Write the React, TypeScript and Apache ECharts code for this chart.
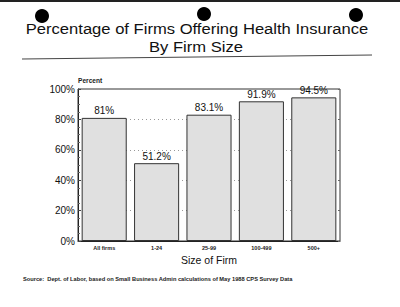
import React, { useEffect, useRef } from "react";
import * as echarts from "echarts";

// Firm size groups and the share of firms offering health insurance (%)
const categories = ["All firms", "1-24", "25-99", "100-499", "500+"];
const shares = [81, 51.2, 83.1, 91.9, 94.5];
const shareLabels = ["81%", "51.2%", "83.1%", "91.9%", "94.5%"];
const yTicks = [0, 20, 40, 60, 80, 100];

const titleLine1 = "Percentage of Firms Offering Health Insurance";
const titleLine2 = "By Firm Size";
const sourceNote =
  "Source:  Dept. of Labor, based on Small Business Admin calculations of May 1988 CPS Survey Data";

const FONT = "'Liberation Sans', Arial, Helvetica, sans-serif";

export default function App() {
  const ref = useRef<HTMLDivElement>(null);

  useEffect(() => {
    if (!ref.current) return;
    const chart = echarts.init(ref.current, null, { renderer: "svg" });

    const titleStyle = {
      fontFamily: FONT,
      fontSize: 15.5,
      fill: "#111",
      textAlign: "center",
      textVerticalAlign: "middle",
    };

    const option = {
      animation: false,
      backgroundColor: "#ffffff",
      grid: {
        left: 78,
        right: 60,
        top: 89,
        bottom: 66,
        show: true,
        borderColor: "#333",
        borderWidth: 1,
        backgroundColor: "transparent",
      },
      xAxis: {
        type: "category",
        data: categories,
        name: "Size of Firm",
        nameLocation: "middle",
        nameGap: 13,
        nameMoveOverlap: false,
        nameTextStyle: { fontFamily: FONT, fontSize: 10.5, color: "#111" },
        axisLine: { show: true, lineStyle: { color: "#222", width: 1 } },
        axisTick: { show: false },
        axisLabel: {
          fontFamily: FONT,
          fontSize: 5.5,
          fontWeight: "bold",
          color: "#222",
          margin: 4,
        },
      },
      yAxis: [
        {
          type: "value",
          min: 0,
          max: 100,
          interval: 20,
          axisLine: { show: true, lineStyle: { color: "#222", width: 1 } },
          axisTick: { show: true, inside: true, length: 3, lineStyle: { color: "#444" } },
          minorTick: { show: true, splitNumber: 4, length: 2, lineStyle: { color: "#666" } },
          axisLabel: {
            fontFamily: FONT,
            fontSize: 10,
            color: "#111",
            margin: 3,
            formatter: (v: number) => (yTicks.includes(v) ? v + "%" : ""),
          },
          splitLine: {
            show: true,
            lineStyle: { color: "#999", type: [1, 3], width: 1 },
          },
        },
        {
          type: "value",
          min: 0,
          max: 100,
          interval: 20,
          position: "right",
          axisLine: { show: false },
          axisTick: { show: true, inside: true, length: 2, lineStyle: { color: "#666" } },
          axisLabel: { show: false },
          splitLine: { show: false },
        },
      ],
      series: [
        {
          type: "bar",
          data: shares,
          barCategoryGap: "14%",
          itemStyle: {
            color: "#e0e0e0",
            borderColor: "#333",
            borderWidth: 1,
          },
          label: {
            show: true,
            position: "top",
            distance: 2,
            fontFamily: FONT,
            fontSize: 10,
            color: "#111",
            formatter: (p: any) => shareLabels[p.dataIndex],
          },
        },
      ],
      graphic: [
        // dark edge along the top of the page
        { type: "rect", shape: { x: 0, y: 0, width: 400, height: 2 }, style: { fill: "#222" } },
        // binder holes
        { type: "circle", shape: { cx: 42, cy: 16, r: 7 }, style: { fill: "#000" }, z: 10 },
        { type: "circle", shape: { cx: 204, cy: 14, r: 7 }, style: { fill: "#000" }, z: 10 },
        { type: "circle", shape: { cx: 356, cy: 15, r: 7 }, style: { fill: "#000" }, z: 10 },
        // two-line title, slightly widened
        { type: "text", x: 197, y: 28, scaleX: 1.07, style: { ...titleStyle, text: titleLine1 } },
        { type: "text", x: 196, y: 46, scaleX: 1.07, style: { ...titleStyle, text: titleLine2 } },
        {
          type: "line",
          shape: { x1: 22, y1: 59, x2: 372, y2: 55 },
          style: { stroke: "#444", lineWidth: 1 },
        },
        {
          type: "text",
          x: 78,
          y: 80,
          style: {
            text: "Percent",
            fontFamily: FONT,
            fontSize: 6.6,
            fontWeight: "bold",
            fill: "#222",
            textAlign: "left",
            textVerticalAlign: "middle",
          },
        },
        {
          type: "text",
          x: 23,
          y: 279,
          style: {
            text: sourceNote,
            fontFamily: FONT,
            fontSize: 5.7,
            fontWeight: "bold",
            fill: "#222",
            textAlign: "left",
            textVerticalAlign: "middle",
          },
        },
      ],
    };

    chart.setOption(option as any);
    return () => chart.dispose();
  }, []);

  return (
    <div
      ref={ref}
      style={{ position: "absolute", left: 0, top: 0, width: 400, height: 307 }}
    />
  );
}
